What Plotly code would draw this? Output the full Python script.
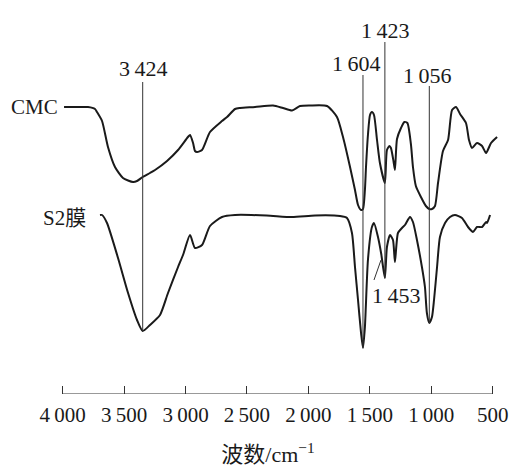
import plotly.graph_objects as go

# ---------------- data (wavenumber cm^-1, transmittance a.u.) ----------------
cmc_wn = [4074, 3942, 3876, 3818, 3802, 3760, 3711, 3653, 3587, 3504, 3471, 3424,
          3364, 3322, 3223, 3132, 3050, 3033, 3008, 2992, 2975, 2934, 2868, 2769,
          2727, 2661, 2620, 2496, 2347, 2265, 2190, 2124, 2042, 1901, 1819, 1769,
          1711, 1670, 1645, 1620, 1604, 1588, 1579, 1563, 1546, 1530, 1513, 1488,
          1464, 1423, 1406, 1385, 1373, 1352, 1340, 1323, 1290, 1262, 1237, 1208,
          1191, 1167, 1125, 1084, 1056, 1034, 1009, 984, 943, 901, 868, 835, 802,
          753, 728, 703, 662, 620, 587, 546, 496]
cmc_t = [287, 287, 287, 285, 282, 273, 247, 227, 216, 212, 213, 217,
         221, 224, 233, 244, 257, 259, 251, 243, 242, 244, 262, 273,
         277, 285, 286, 287, 288.5, 286, 283.5, 288, 288.5, 288, 277, 257,
         227, 204, 189, 184, 185, 204, 227, 259, 279, 282, 279, 254,
         231, 211, 244, 248, 246, 233, 224, 255, 266, 272, 271, 250,
         227, 208, 197, 188, 185, 185, 188, 211, 243, 254, 284, 287, 280,
         271, 254, 246, 251, 248, 241, 251, 257]

s2_wn = [3777, 3760, 3719, 3628, 3545, 3471, 3424, 3364, 3281, 3215, 3132, 3091,
         3033, 2992, 2934, 2868, 2769, 2661, 2400, 2190, 2000, 1794, 1736, 1695,
         1670, 1645, 1620, 1604, 1588, 1563, 1530, 1513, 1480, 1453, 1423, 1406,
         1381, 1356, 1340, 1315, 1282, 1257, 1216, 1191, 1158, 1117, 1092, 1076,
         1056, 1034, 1017, 992, 968, 926, 885, 844, 786, 736, 695, 662, 620, 587,
         579, 554]
s2_t = [179, 179, 171, 136, 101, 74, 63, 69, 79, 101, 127, 139,
        159, 146, 149, 168, 177, 179, 178.5, 177, 178.5, 178, 176, 161,
        127, 94, 61, 46, 67, 134, 167, 171, 157, 140, 116, 147,
        159, 154, 132, 161, 166, 169, 177, 172, 154, 127, 107, 81,
        71, 77, 94, 127, 157, 171, 177, 179, 176, 167, 162, 167, 167, 172,
        171, 179]

# marked bands: wavenumber, line top/bottom (a.u.), label position
peak_wn = [3424, 1604, 1423, 1056]
peak_top = [312, 319, 352, 308]
peak_bottom = [63, 46, 116, 71]
peak_text = ["3\u2009424", "1\u2009604", "1\u2009423", "1\u2009056"]
peak_label_wn = [3424, 1662, 1423, 1076]
peak_label_t = [326, 331, 364, 319]

tick_vals = [4000, 3500, 3000, 2500, 2000, 1500, 1000, 500]
tick_text = ["4\u2009000", "3\u2009500", "3\u2009000", "2\u2009500",
             "2\u2009000", "1\u2009500", "1\u2009000", "500"]

FONT = "Liberation Serif, 'Noto Sans CJK SC', serif"
INK = "#1a1a1a"

fig = go.Figure()
fig.add_trace(go.Scatter(x=cmc_wn, y=cmc_t, mode="lines", xaxis="x2", yaxis="y",
                         line=dict(color=INK, width=2, shape="spline", smoothing=0.6),
                         showlegend=False, hoverinfo="skip"))
fig.add_trace(go.Scatter(x=s2_wn, y=s2_t, mode="lines", xaxis="x2", yaxis="y",
                         line=dict(color=INK, width=2, shape="spline", smoothing=0.6),
                         showlegend=False, hoverinfo="skip"))

shapes = []
for w, t0, t1 in zip(peak_wn, peak_top, peak_bottom):
    shapes.append(dict(type="line", xref="x2", yref="y", x0=w, x1=w, y0=t1, y1=t0,
                       line=dict(color="#333", width=1)))
# pointer for 1453 shoulder
shapes.append(dict(type="line", xref="x2", yref="y", x0=1513, x1=1455, y0=114, y1=134,
                   line=dict(color="#333", width=1)))
# bottom axis line from 4000 to 500
shapes.append(dict(type="line", xref="x", yref="y", x0=tick_vals[0], x1=tick_vals[-1],
                   y0=0, y1=0, line=dict(color="#333", width=1)))

annotations = []
for txt, w, t in zip(peak_text, peak_label_wn, peak_label_t):
    annotations.append(dict(text=txt, x=w, y=t, xref="x2", yref="y", showarrow=False,
                            font=dict(family=FONT, size=22, color=INK)))
annotations.append(dict(text="1\u2009453", x=1331, y=99, xref="x2", yref="y", showarrow=False,
                        font=dict(family=FONT, size=22, color=INK)))
annotations.append(dict(text="CMC", x=4314, y=287, xref="x2", yref="y", showarrow=False,
                        font=dict(family=FONT, size=21, color=INK)))
annotations.append(dict(text="S2膜", x=4074, y=176, xref="x2", yref="y", showarrow=False,
                        font=dict(family=FONT, size=21, color=INK)))

fig.update_layout(
    width=520, height=462,
    margin=dict(l=0, r=0, t=0, b=76),
    paper_bgcolor="white", plot_bgcolor="white",
    font=dict(family=FONT, color=INK),
    xaxis=dict(range=[4445.2, 212.7], tickvals=tick_vals, ticktext=tick_text,
               ticks="inside", ticklen=8, tickcolor="#333", tickwidth=1,
               showline=False, showgrid=False, zeroline=False,
               tickfont=dict(family=FONT, size=21, color=INK),
               ticklabelstandoff=6,
               title=dict(text="波数/cm<sup>−1</sup>", standoff=20,
                          font=dict(family=FONT, size=22, color=INK))),
    xaxis2=dict(range=[4537, 240.5], overlaying="x", visible=False,
                showgrid=False, zeroline=False),
    yaxis=dict(range=[0, 386], visible=False, showgrid=False, zeroline=False),
    shapes=shapes,
    annotations=annotations,
)

fig.write_html("out.html")
